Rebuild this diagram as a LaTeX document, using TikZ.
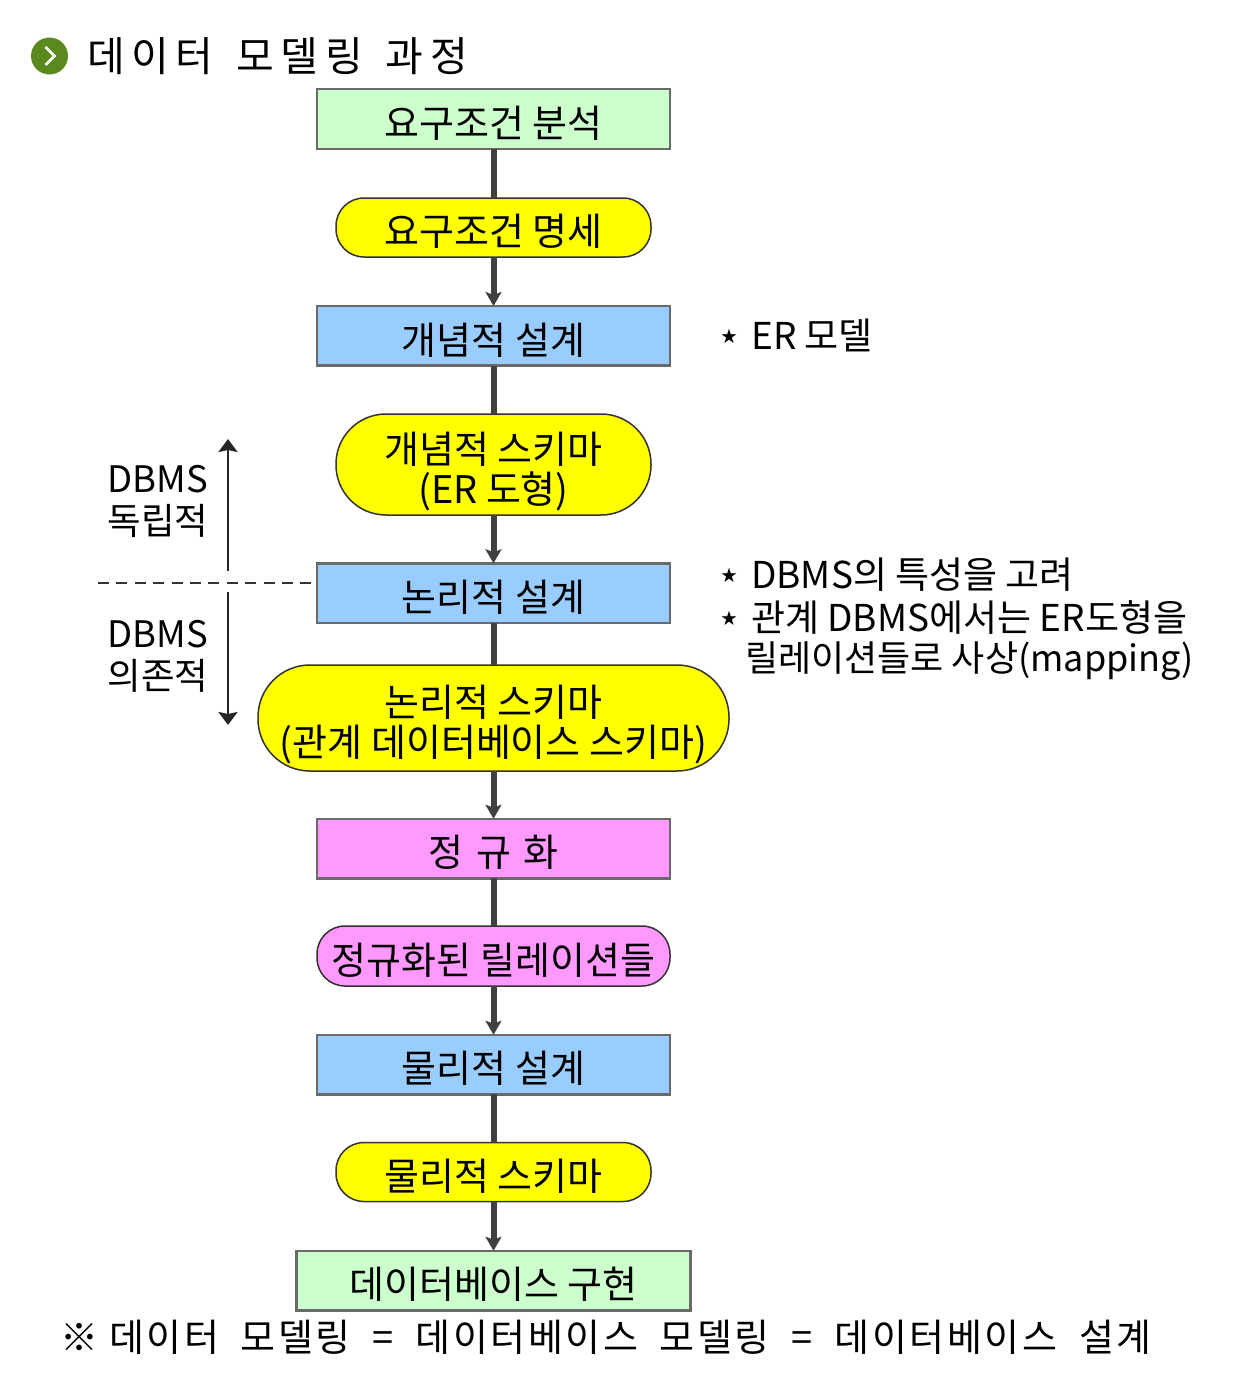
\documentclass[tikz,border=0pt]{standalone}
\usepackage{fontspec}
\setmainfont{Noto Sans CJK KR}
\usepackage{tikz}
\usetikzlibrary{arrows.meta,positioning,calc}
\definecolor{linegray}{HTML}{404040}
\definecolor{edgegray}{HTML}{6A6A6A}
\definecolor{reqgreen}{HTML}{CCFFCC}
\definecolor{stepblue}{HTML}{99CCFF}
\definecolor{normpink}{HTML}{FF99FF}
\definecolor{leafgreen}{HTML}{5A8A1E}
\definecolor{schemayellow}{HTML}{FFFF00}
\newcommand{\notestar}{{\fontsize{16}{16}\selectfont\raisebox{7pt}{★}}\hspace{14pt}}
\newcommand{\lowline}{\rule{0pt}{45pt}}

\begin{document}
\begin{tikzpicture}[
  x=1pt, y=-1pt,
  font=\fontsize{38}{40}\selectfont,
  lowtext/.style={execute at begin node={\rule{0pt}{39.5pt}}},
  task/.style={draw=edgegray, line width=2.5pt, align=center, inner sep=0pt, outer sep=0pt,
               minimum width=353pt, minimum height=59.5pt, lowtext},
  result/.style={draw=black!80, line width=1.5pt, align=center, inner sep=0pt, outer sep=0pt,
                 fill=schemayellow, minimum width=315pt, minimum height=59pt,
                 rounded corners=28pt, lowtext},
  flowline/.style={draw=linegray, line width=6pt},
  arrow/.style={flowline, -{Stealth[length=14pt, width=16pt, inset=3pt]}},
  scopearrow/.style={draw=black!85, line width=2.5pt, -{Stealth[length=13pt, width=19pt, inset=2pt]}},
  note/.style={anchor=west, align=left, inner sep=0pt, font=\fontsize{37}{40}\selectfont},
  sidelabel/.style={align=center, inner sep=0pt, font=\fontsize{36.5}{42}\selectfont},
  titleline/.style={anchor=west, inner sep=0pt,
                    font=\fontsize{41}{40}\selectfont\addfontfeature{LetterSpace=16}},
  footline/.style={anchor=west, inner sep=0pt,
                   font=\fontsize{38}{40}\selectfont\addfontfeature{LetterSpace=6.5}}
]
\useasboundingbox (0,0) rectangle (1234,1378);

% Title
\node[circle, fill=leafgreen, minimum size=37pt, inner sep=0pt] (bullet) at (49.5,56) {};
\draw[white, line width=2.5pt] ($(bullet.center)+(-4,-9)$) -- ++(9,9) -- ++(-9,9);
\node[titleline, right=19pt of bullet] (title) {데이터\hspace{23pt}모델링\hspace{23pt}과정};

% Flow, top to bottom
\node[task, fill=reqgreen] (req) at (493.5,119) {요구조건 분석};
\node[result, below=49.25pt of req] (reqspec) {요구조건 명세};
\node[task, fill=stepblue, below=49pt of reqspec] (concept) {개념적 설계};
\node[result, below=48.5pt of concept, minimum height=101pt, rounded corners=50pt] (cschema) {\lowline 개념적 스키마\\(ER 도형)};
\node[task, fill=stepblue, below=48.25pt of cschema] (logic) {논리적 설계};
\node[result, below=42.25pt of logic, minimum width=471pt, minimum height=106pt, rounded corners=52pt] (lschema) {\lowline 논리적 스키마\\(관계 데이터베이스 스키마)};
\node[task, fill=normpink, below=47.75pt of lschema] (norm) {정 \hspace{4pt}규 \hspace{4pt}화};
\node[result, fill=normpink, below=47.75pt of norm, minimum width=353pt, minimum height=60pt] (nrel) {정규화된 릴레이션들};
\node[task, fill=stepblue, below=48.75pt of nrel] (phys) {물리적 설계};
\node[result, below=48.25pt of phys] (pschema) {물리적 스키마};
\node[task, fill=reqgreen, below=49.25pt of pschema, minimum width=394pt] (impl) {데이터베이스 구현};

\draw[flowline] (req) -- (reqspec);
\draw[arrow] (reqspec) -- (concept);
\draw[flowline] (concept) -- (cschema);
\draw[arrow] (cschema) -- (logic);
\draw[flowline] (logic) -- (lschema);
\draw[arrow] (lschema) -- (norm);
\draw[flowline] (norm) -- (nrel);
\draw[arrow] (nrel) -- (phys);
\draw[flowline] (phys) -- (pschema);
\draw[arrow] (pschema) -- (impl);

% DBMS boundary
\coordinate (cutL) at (98,583);
\coordinate (cutR) at (311.4,583);
\coordinate (upS) at (228,571);
\coordinate (upE) at (228,439);
\coordinate (downS) at (228,592);
\coordinate (downE) at (228,725);
\draw[black!80, line width=2pt, dash pattern=on 11pt off 7.4pt] (cutL) -- (cutR);
\draw[scopearrow] (upS) -- (upE);
\draw[scopearrow] (downS) -- (downE);
\node[sidelabel] (indep) at (158,501) {DBMS\\독립적};
\node[sidelabel] (dep) at (158,656) {DBMS\\의존적};

% Notes on the right
\node[note] (noteA) at (721,335) {\notestar ER 모델};
\node[note] (noteB) at (721,575) {\notestar DBMS의 특성을 고려};
\node[note] (noteC) at (721,618) {\notestar 관계 DBMS에서는 ER도형을};
\node[note, font=\fontsize{36}{40}\selectfont] (noteD) at (745,661) {릴레이션들로 사상(mapping)};

% Footer
\node[footline] (footer) at (60,1337) {※ 데이터\hspace{22pt}모델링\hspace{22pt}=\hspace{22pt}데이터베이스\hspace{22pt}모델링\hspace{22pt}=\hspace{22pt}데이터베이스\hspace{22pt}설계};
\end{tikzpicture}
\end{document}
